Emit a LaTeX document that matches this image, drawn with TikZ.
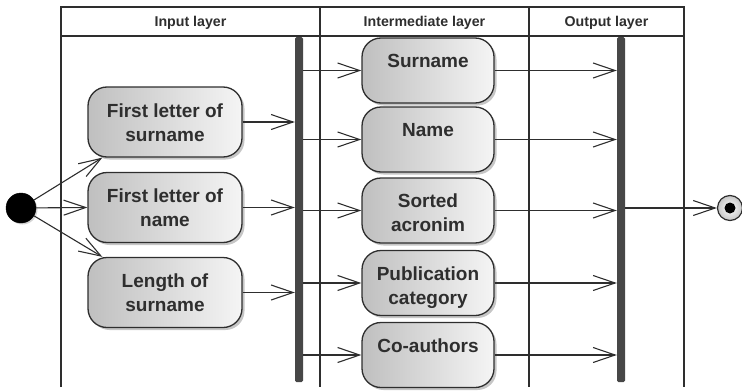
\documentclass[tikz,border=0pt]{standalone}
\usepackage{fontspec}
\setmainfont{Liberation Sans}
\usetikzlibrary{arrows.meta,shadows}
\definecolor{ink}{HTML}{2E2E2E}
\definecolor{barc}{HTML}{474747}
\begin{document}
\begin{tikzpicture}[x=1pt,y=-1pt,
  lane/.style={draw=ink, line width=1.4pt},
  act/.style={draw=ink, line width=1.3pt, rounded corners=19pt,
    left color=gray!50, right color=gray!8,
    drop shadow={shadow xshift=2.5pt, shadow yshift=-2.5pt, opacity=.45, fill=gray},
    align=center, font=\bfseries\fontsize{19}{24}\selectfont, text=ink, inner sep=0pt},
  inact/.style={act, minimum width=154pt, minimum height=70pt, text height=38pt, text depth=0pt},
  midact/.style={act, minimum width=132pt, minimum height=65pt, text height=46pt, text depth=4pt},
  flow/.style={draw=ink, line width=1.1pt, -{Straight Barb[length=22pt,width=15pt,line width=1.1pt]}},
  syncbar/.style={fill=barc, draw=none, rounded corners=1.5pt, minimum width=8pt,
    minimum height=345pt, inner sep=0pt, anchor=north},
  hdr/.style={font=\bfseries\fontsize{14.2}{16}\selectfont, text=ink}]
\useasboundingbox (0,0) rectangle (742,391);

% swimlane frame
\draw[lane] (61,387) -- (61,7) -- (684,7) -- (684,387);
\draw[lane] (61,36) -- (684,36);
\draw[lane] (320,7) -- (320,387);
\draw[lane] (529,7) -- (529,387);
\node[hdr] (hin)  at (190.5,23) {Input layer};
\node[hdr] (hmid) at (424.5,23) {Intermediate layer};
\node[hdr] (hout) at (606.5,23) {Output layer};

% synchronisation bars
\node[syncbar] (ibar) at (299,37) {};
\node[syncbar] (obar) at (621,37) {};

% initial and final states
\node[circle, fill=black, draw=black, minimum size=30pt, inner sep=0pt,
  drop shadow={shadow xshift=1.5pt, shadow yshift=-1.5pt, opacity=.35}] (start) at (21,208) {};
\node[circle, draw=ink, line width=1.2pt, inner color=white, outer color=gray!45,
  minimum size=25pt, inner sep=0pt] (stop) at (730,208) {};
\node[circle, fill=black, minimum size=11pt, inner sep=0pt] (stopdot) at (stop.center) {};

% input layer activities
\node[inact] (in1) at (165,122)   {First letter of\\surname};
\node[inact] (in2) at (165,207.5) {First letter of\\name};
\node[inact] (in3) at (165,292.5) {Length of\\surname};

% intermediate layer activities
\node[midact] (m1) at (428,70.5)  {Surname\\\strut};
\node[midact] (m2) at (428,139.5) {Name\\\strut};
\node[midact] (m3) at (428,210.5) {Sorted\\acronim};
\node[midact] (m4) at (428,283)   {Publication\\category};
\node[midact] (m5) at (428,355)   {Co-authors\\\strut};

% flows
\draw[flow] (start) -- ([xshift=15pt]in1.south west);
\draw[flow] (start) -- (in2.west);
\draw[flow] (start) -- ([xshift=15pt]in3.north west);
\foreach \n in {in1,in2,in3}
  \draw[flow] (\n.east) -- (ibar.west |- \n.east);
\foreach \n in {m1,m2,m3,m4,m5}{
  \draw[flow] (ibar.east |- \n.west) -- (\n.west);
  \draw[flow] (\n.east) -- (obar.west |- \n.east);
}
\draw[flow] (obar.east |- stop.west) -- (stop.west);
\end{tikzpicture}
\end{document}
